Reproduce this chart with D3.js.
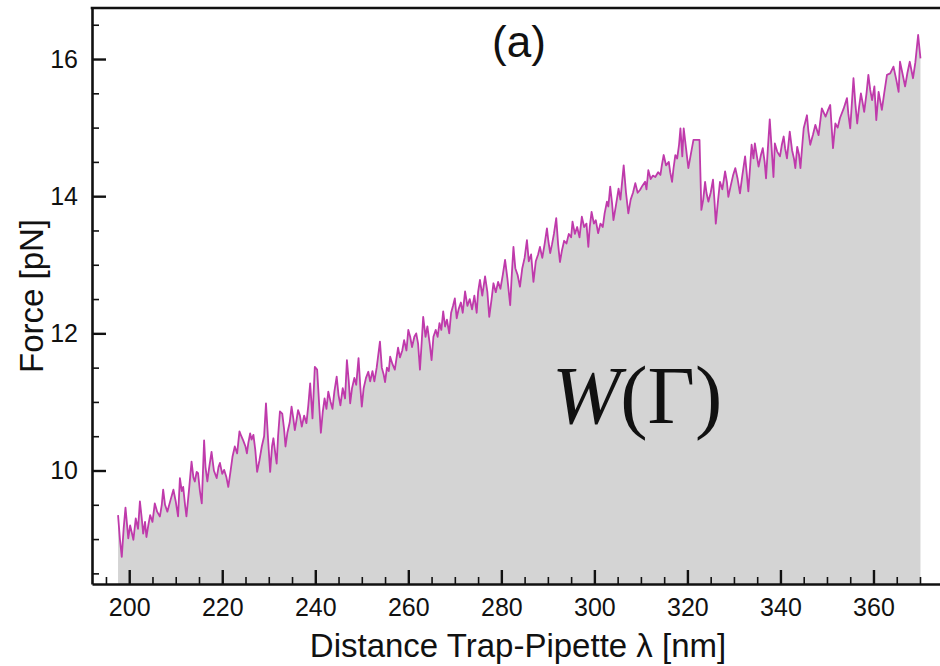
<!DOCTYPE html>
<html>
<head>
<meta charset="utf-8">
<script src="https://cdn.jsdelivr.net/npm/d3@7"></script>
<style>
  html, body { margin: 0; padding: 0; background: #fff; }
  svg { display: block; }
</style>
</head>
<body>
<svg id="chart" width="940" height="666"></svg>
<script>
// ---- data ----
const distance = [
  197.6,198.0,198.4,198.8,199.2,199.8,200.2,200.5,200.9,201.4,201.9,202.3,202.7,203.0,203.4,203.7,204.1,204.5,205.0,205.5,
  206.0,206.6,207.0,207.3,207.7,208.2,208.8,209.5,210.0,210.5,210.9,211.3,211.6,212.0,212.3,212.9,213.4,213.8,214.1,214.5,
  214.8,215.2,215.6,216.1,216.4,216.8,217.2,217.7,218.2,218.8,219.2,219.5,220.0,220.4,220.9,221.3,221.8,222.2,222.7,223.2,
  223.7,224.1,224.5,225.0,225.3,225.6,226.0,226.3,226.7,227.1,227.5,228.0,228.5,229.0,229.4,229.9,230.3,230.7,231.0,231.4,
  231.7,232.0,232.4,232.9,233.3,233.6,234.0,234.5,234.9,235.3,235.6,236.0,236.3,236.7,237.1,237.6,238.1,238.5,238.9,239.4,
  239.9,240.4,240.8,241.2,241.6,242.0,242.4,242.8,243.3,243.7,244.1,244.6,245.0,245.4,245.9,246.4,246.8,247.2,247.5,247.9,
  248.4,248.8,249.3,249.7,250.0,250.4,250.9,251.4,251.8,252.3,252.7,253.2,253.9,254.3,254.7,255.0,255.4,255.8,256.1,256.6,
  257.1,257.8,258.2,258.7,259.1,259.6,260.0,260.4,260.8,261.3,261.7,262.1,262.5,262.9,263.2,263.7,264.1,264.6,265.0,265.4,
  265.9,266.3,266.7,267.1,267.5,267.9,268.3,268.8,269.2,269.6,270.0,270.4,270.8,271.3,271.7,272.2,272.7,273.2,273.7,274.2,
  274.7,275.0,275.4,275.9,276.5,277.0,277.4,277.9,278.3,278.8,279.3,279.8,280.3,280.8,281.3,281.9,282.2,282.6,283.0,283.5,
  284.0,284.5,285.0,285.5,285.9,286.4,286.9,287.4,287.9,288.3,288.8,289.3,289.8,290.1,290.5,290.9,291.3,291.8,292.2,292.6,
  293.0,293.5,294.0,294.5,295.0,295.3,295.8,296.3,296.8,297.3,297.8,298.3,298.7,299.0,299.4,299.9,300.3,300.8,301.3,301.8,
  302.2,302.7,303.0,303.4,303.8,304.1,304.6,305.2,305.6,306.3,306.8,307.3,307.8,308.3,308.8,309.3,309.8,310.3,310.9,311.2,
  311.6,312.1,312.6,313.1,313.7,314.2,314.5,314.9,315.4,316.0,316.3,316.7,317.0,317.4,317.8,318.2,318.5,318.9,319.2,319.7,
  320.2,320.7,321.3,322.6,323.0,323.4,323.8,324.1,324.5,325.0,325.5,325.8,326.1,326.6,327.0,327.5,328.1,328.5,328.8,329.3,
  329.8,330.3,330.8,331.3,331.8,332.4,332.8,333.1,333.5,333.8,334.2,334.5,334.9,335.3,335.8,336.2,336.6,336.9,337.3,337.7,
  338.1,338.5,338.8,339.3,339.9,340.3,340.7,341.0,341.4,342.0,342.5,342.9,343.2,343.6,344.0,344.3,344.7,345.0,345.7,346.0,
  346.4,347.0,347.5,348.2,348.9,349.7,350.2,350.7,351.3,351.8,352.3,352.8,353.6,354.3,354.6,355.0,355.3,355.7,356.1,356.5,
  356.9,357.3,357.7,358.0,358.5,358.9,359.3,359.7,360.2,360.6,361.1,361.8,362.3,362.9,363.6,364.3,364.9,365.4,365.7,366.2,
  366.8,367.3,367.8,368.5,369.0,369.6,370.1
];
const force = [
  9.35,9.00,8.74,9.15,9.46,9.01,9.20,9.11,8.99,9.30,9.15,9.55,9.30,9.08,9.25,9.03,9.20,9.35,9.25,9.52,
  9.40,9.33,9.50,9.72,9.50,9.40,9.55,9.72,9.55,9.33,9.89,9.70,9.76,9.50,9.33,9.75,10.13,9.90,9.84,9.98,
  9.96,9.70,9.52,10.44,10.05,9.84,10.05,10.27,10.00,9.89,10.05,10.11,9.95,10.01,9.90,9.76,10.00,10.20,10.35,10.25,
  10.57,10.50,10.44,10.35,10.25,10.40,10.54,10.45,10.52,10.30,9.98,10.15,10.35,10.50,10.98,10.40,9.98,10.35,10.47,10.25,
  10.10,10.50,10.86,10.83,10.60,10.35,10.55,10.70,10.93,10.75,10.59,10.75,10.88,10.80,10.64,10.80,10.69,10.95,11.27,10.76,
  11.51,11.47,11.00,10.55,10.85,11.05,10.90,11.15,11.00,10.90,11.15,11.37,11.10,10.95,11.20,11.05,11.61,11.30,10.98,11.20,
  11.35,11.25,11.64,11.20,10.93,11.20,11.35,11.44,11.30,11.45,11.30,11.50,11.88,11.50,11.40,11.29,11.50,11.45,11.66,11.55,
  11.47,11.79,11.65,11.75,11.90,11.75,12.05,11.95,11.80,11.95,12.00,11.85,11.47,11.90,12.24,11.95,12.10,11.85,11.61,11.95,
  12.05,11.95,12.15,12.05,12.32,12.10,12.20,12.00,12.30,12.40,12.51,12.22,12.35,12.45,12.30,12.61,12.40,12.50,12.35,12.55,
  12.30,12.60,12.78,12.55,12.83,12.60,12.24,12.50,12.73,12.60,12.75,12.65,12.85,13.07,12.80,12.41,12.80,13.26,12.95,12.85,
  12.68,12.95,13.10,13.36,13.05,13.15,12.75,13.05,13.15,13.26,13.10,13.30,13.53,13.35,13.17,13.30,13.45,13.68,13.30,13.04,
  13.20,13.35,13.31,13.45,13.40,13.63,13.45,13.55,13.40,13.70,13.55,13.60,13.26,13.55,13.77,13.60,13.65,13.46,13.60,13.55,
  13.75,13.92,13.85,14.14,13.90,13.65,13.85,14.11,13.95,14.45,14.05,13.75,13.95,14.05,14.19,14.05,14.09,14.15,14.21,14.10,
  14.38,14.25,14.30,14.28,14.35,14.31,14.45,14.60,14.45,14.50,14.35,14.21,14.40,14.60,14.55,14.75,14.99,14.58,14.99,14.70,
  14.41,14.60,14.82,14.82,13.80,13.95,14.21,14.05,13.92,14.05,14.24,13.95,13.60,13.95,14.21,14.10,14.36,14.20,13.99,14.15,
  14.30,14.41,14.25,14.04,14.30,14.58,14.30,14.07,14.45,14.75,14.55,14.77,14.60,14.43,14.60,14.70,14.50,14.26,14.70,15.12,
  14.70,14.28,14.77,14.65,14.58,14.75,14.87,14.70,14.55,14.94,14.67,14.55,14.41,14.72,14.60,14.41,14.75,14.99,15.18,14.95,
  14.75,14.90,15.04,14.89,15.28,15.16,15.25,15.33,14.70,15.06,15.00,15.14,15.28,15.43,15.20,14.99,15.30,15.72,15.35,15.06,
  15.30,15.50,15.35,15.23,15.50,15.77,15.55,15.40,15.60,15.11,15.52,15.26,15.50,15.77,15.79,15.89,15.70,15.52,15.96,15.80,
  15.60,15.80,15.96,15.72,15.95,16.35,16.01
];
const xMajorTicks = [200, 220, 240, 260, 280, 300, 320, 340, 360];
const xMinorTicks = [195, 205, 210, 215, 225, 230, 235, 245, 250, 255, 265, 270, 275, 285, 290, 295, 305, 310, 315, 325, 330, 335, 345, 350, 355, 365, 370];
const yMajorTicks = [10, 12, 14, 16];
const yMinorTicks = [8.5, 9, 9.5, 10.5, 11, 11.5, 12.5, 13, 13.5, 14.5, 15, 15.5, 16.5];
const xLabel = "Distance Trap-Pipette λ [nm]";
const yLabel = "Force [pN]";
const panelLabel = "(a)";

// ---- layout ----
const svg = d3.select("#chart");
const plotLeft = 92, plotRight = 940, plotTop = 8, plotBottom = 584;
const x = d3.scaleLinear().domain([192.0, 374.3]).range([plotLeft, plotRight]);
const y = d3.scaleLinear().domain([8.345, 16.744]).range([plotBottom, plotTop]);

const pts = distance.map((d, i) => ({ l: d, f: force[i] }));

// area (work W(Γ))
svg.append("path")
  .datum(pts)
  .attr("fill", "#d4d4d4")
  .attr("d", d3.area().x(d => x(d.l)).y0(plotBottom).y1(d => y(d.f)));

// force curve
svg.append("path")
  .datum(pts)
  .attr("fill", "none")
  .attr("stroke", "#bf3aab")
  .attr("stroke-width", 1.8)
  .attr("stroke-linejoin", "round")
  .attr("d", d3.line().x(d => x(d.l)).y(d => y(d.f)));

const font = "'Liberation Sans', Arial, Helvetica, sans-serif";

// x axis minor
svg.append("g").attr("transform", `translate(0,${plotBottom})`)
  .call(d3.axisBottom(x).tickValues(xMinorTicks).tickSize(-7).tickFormat(""))
  .call(g => g.select(".domain").remove())
  .call(g => g.selectAll("line").attr("stroke", "#111").attr("stroke-width", 1.6));
// x axis major
svg.append("g").attr("transform", `translate(0,${plotBottom})`)
  .call(d3.axisBottom(x).tickValues(xMajorTicks).tickSize(-14).tickSizeOuter(0).tickPadding(14))
  .call(g => g.select(".domain").attr("stroke", "#111").attr("stroke-width", 2.6))
  .call(g => g.selectAll("line").attr("stroke", "#111").attr("stroke-width", 2.4))
  .call(g => g.selectAll("text").attr("font-family", font).attr("font-size", 25).attr("fill", "#111"));

// y axis minor
svg.append("g").attr("transform", `translate(${plotLeft},0)`)
  .call(d3.axisLeft(y).tickValues(yMinorTicks).tickSize(-7).tickFormat(""))
  .call(g => g.select(".domain").remove())
  .call(g => g.selectAll("line").attr("stroke", "#111").attr("stroke-width", 1.6));
// y axis major
svg.append("g").attr("transform", `translate(${plotLeft},0)`)
  .call(d3.axisLeft(y).tickValues(yMajorTicks).tickSize(-14).tickSizeOuter(0).tickPadding(14))
  .call(g => g.select(".domain").attr("stroke", "#111").attr("stroke-width", 2.6))
  .call(g => g.selectAll("line").attr("stroke", "#111").attr("stroke-width", 2.4))
  .call(g => g.selectAll("text").attr("font-family", font).attr("font-size", 25).attr("fill", "#111"));

// top frame line
svg.append("line")
  .attr("x1", plotLeft - 1.3).attr("x2", plotRight).attr("y1", plotTop).attr("y2", plotTop)
  .attr("stroke", "#111").attr("stroke-width", 2.6);

// axis titles
svg.append("text")
  .attr("x", (plotLeft + plotRight) / 2 + 2).attr("y", 657)
  .attr("text-anchor", "middle")
  .attr("font-family", font).attr("font-size", 33).attr("fill", "#111")
  .text(xLabel);
svg.append("text")
  .attr("transform", `translate(43,296) rotate(-90)`)
  .attr("text-anchor", "middle")
  .attr("font-family", font).attr("font-size", 33).attr("fill", "#111")
  .text(yLabel);

// panel label
svg.append("text")
  .attr("x", 519).attr("y", 57)
  .attr("text-anchor", "middle")
  .attr("font-family", font).attr("font-size", 44).attr("fill", "#111")
  .text(panelLabel);

// W(Γ)
const wt = svg.append("text")
  .attr("x", 552).attr("y", 423)
  .attr("font-family", "'Liberation Serif', 'Times New Roman', serif")
  .attr("font-size", 82).attr("fill", "#111");
wt.append("tspan").attr("font-style", "italic").text("W");
wt.append("tspan").text("(Γ)");
</script>
</body>
</html>
